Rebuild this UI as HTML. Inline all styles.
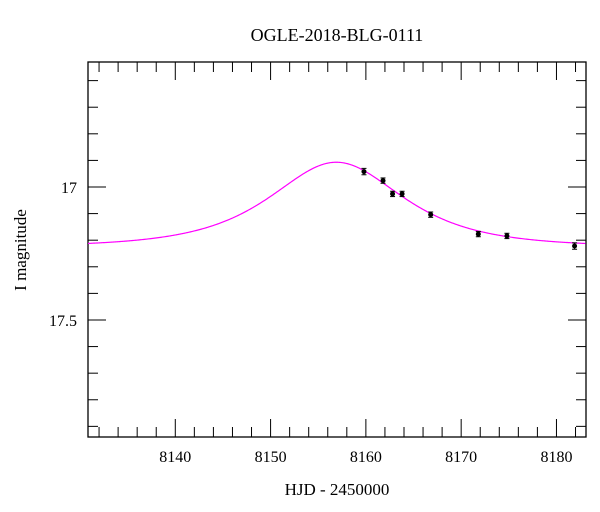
<!DOCTYPE html>
<html><head><meta charset="utf-8"><style>
html,body{margin:0;padding:0;background:#fff;}
svg{display:block;font-family:"Liberation Serif",serif;}
</style></head><body>
<svg id="chart" width="600" height="512" xmlns="http://www.w3.org/2000/svg">
<text x="337" y="41" text-anchor="middle" font-size="18">OGLE-2018-BLG-0111</text>
<text x="337" y="495" text-anchor="middle" font-size="17">HJD - 2450000</text>
<text transform="translate(26,250) rotate(-90)" text-anchor="middle" font-size="17">I magnitude</text>
<g id="axes"></g>
<g id="marks"></g>
</svg>
<script>
const xTicks = [8140, 8150, 8160, 8170, 8180];
const yTicks = [17, 17.5];
const obsT = [8159.8, 8161.8, 8162.8, 8163.8, 8166.8, 8171.8, 8174.8, 8181.9];
const obsMag = [16.942, 16.976, 17.026, 17.026, 17.104, 17.177, 17.184, 17.222];
const obsErr = [0.012, 0.010, 0.010, 0.010, 0.010, 0.010, 0.010, 0.012];
const modelT0 = [8156.9];
const modelU0 = [1.0];
const modelTE = [8.4];
const modelBase = [17.226];

const L=88,R=586,T=62,B=437;
const xMin=8130.84,xMax=8183.1,yMin=16.53,yMax=17.94;
const sx=t=>L+(t-xMin)/(xMax-xMin)*(R-L);
const sy=m=>T+(m-yMin)/(yMax-yMin)*(B-T);
const NS="http://www.w3.org/2000/svg";
function mk(tag,attrs,parent){const e=document.createElementNS(NS,tag);for(const k in attrs)e.setAttribute(k,attrs[k]);parent.appendChild(e);return e;}
const axes=document.getElementById('axes'),marks=document.getElementById('marks');

const frame=mk('rect',{x:L,y:T,width:R-L,height:B-T,fill:'none',stroke:'#000','stroke-width':1.3},axes);



// x ticks
for(let t=8132;t<=xMax;t+=2){
  const major=Math.abs(t%10)<1e-6;const len=major?18:10;const x=sx(t);
  const a=mk('line',{x1:x,x2:x,y1:B,y2:B-len,stroke:'#000'},axes);
  
  
  const b=mk('line',{x1:x,x2:x,y1:T,y2:T+len,stroke:'#000'},axes);
  
  
}
xTicks.forEach(v=>{
  const tx=mk('text',{x:sx(v),y:462,'text-anchor':'middle','font-size':16},axes);
  tx.textContent=v;
  
  
});
// y ticks
for(let i=6;i<=19;i++){
  const m=i/10;const mm=16+m;if(mm<yMin||mm>yMax)continue;
  const major=(i%5===0);const len=major?18:10;const y=sy(mm);
  const a=mk('line',{x1:L,x2:L+len,y1:y,y2:y,stroke:'#000'},axes);
  
  
  const b=mk('line',{x1:R,x2:R-len,y1:y,y2:y,stroke:'#000'},axes);
  
  
}
yTicks.forEach(v=>{
  const tx=mk('text',{x:77,y:sy(v)+6,'text-anchor':'end','font-size':16},axes);
  tx.textContent=v;
  
  
});
// model curve
function modelMag(t){
  const tau=(t-modelT0[0])/modelTE[0];const u=Math.sqrt(modelU0[0]*modelU0[0]+tau*tau);
  const A=(u*u+2)/(u*Math.sqrt(u*u+4));return modelBase[0]-2.5*Math.log10(A);
}
let d='';
for(let t=xMin;t<=xMax;t+=0.1){d+=(d?'L':'M')+sx(t).toFixed(2)+','+sy(modelMag(t)).toFixed(2);}
const curve=mk('path',{d:d,fill:'none',stroke:'#ff00ff','stroke-width':1.2},marks);


// points
obsT.forEach((t,i)=>{
  const x=sx(t),y=sy(obsMag[i]),y1=sy(obsMag[i]-obsErr[i]),y2=sy(obsMag[i]+obsErr[i]);
  const g=mk('g',{},marks);
  
  
  mk('line',{x1:x,x2:x,y1:y1,y2:y2,stroke:'#000','stroke-width':1},g);
  mk('line',{x1:x-2.5,x2:x+2.5,y1:y1,y2:y1,stroke:'#000'},g);
  mk('line',{x1:x-2.5,x2:x+2.5,y1:y2,y2:y2,stroke:'#000'},g);
  mk('circle',{cx:x,cy:y,r:2.5,fill:'#000'},g);
});
</script>
</body></html>
